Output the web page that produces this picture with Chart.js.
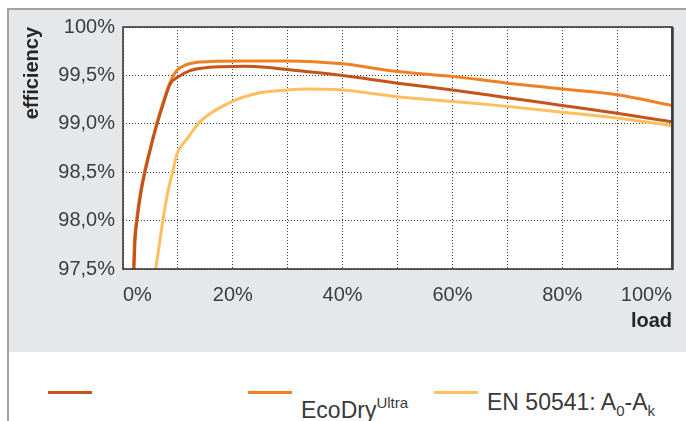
<html>
<head>
<script src="https://cdn.jsdelivr.net/npm/chart.js@4.4.0/dist/chart.umd.min.js"></script>
<style>
body { margin: 0; background: #fff; font-family: "Liberation Sans", Arial, sans-serif; }
#wrap { position: relative; width: 686px; height: 421px; overflow: hidden; }
#frame { position: absolute; left: 7px; top: 8px; right: 0; bottom: 0; border-top: 2px solid #a3a3a3; border-left: 2px solid #a3a3a3; }
#panel { position: absolute; left: 0; top: 0; right: 0; height: 342px; background: #e6e7e9; }
#chart { position: absolute; left: 0; top: 0; }
#legend { position: absolute; left: 0; top: 352px; width: 686px; height: 69px; }
.item { position: absolute; top: 0; }
.item .ln { position: absolute; top: 39px; left: 0; width: 44px; height: 3px; }
.item .tx { position: absolute; top: 39px; left: 53px; white-space: nowrap; font-size: 23px; line-height: 23px; color: #3a3a3a; }
.item sup { font-size: 15px; vertical-align: 10px; }
.item sub { font-size: 15px; vertical-align: -6px; }
</style>
</head>
<body>
<div id="wrap">
  <div id="frame"><div id="panel"></div></div>
  <canvas id="chart" width="686" height="352"></canvas>
  <div id="legend"></div>
</div>
<script>
// load in %, efficiency in %
var rustLoad = [2.0, 2.2, 2.55, 3.3, 4.0, 5.0, 6.0, 7.3, 8.6, 10.2, 12.0, 14.5, 18.0, 22.0, 26.0, 30.0, 40.0, 50.0, 60.0, 70.0, 80.0, 90.0, 100];
var rustEff  = [97.5, 97.8, 98.0, 98.3, 98.5, 98.74, 98.96, 99.2, 99.41, 99.49, 99.545, 99.575, 99.59, 99.595, 99.585, 99.56, 99.50, 99.42, 99.35, 99.27, 99.19, 99.11, 99.02];

var ecoLoad = [1.9, 2.1, 2.45, 3.2, 3.9, 4.9, 6.0, 7.3, 8.6, 9.8, 11.5, 13.5, 17.0, 22.0, 30.0, 40.0, 50.0, 60.0, 70.0, 80.0, 90.0, 100];
var ecoEff  = [97.5, 97.8, 98.0, 98.3, 98.5, 98.73, 98.97, 99.22, 99.43, 99.55, 99.61, 99.635, 99.645, 99.65, 99.65, 99.62, 99.54, 99.49, 99.42, 99.36, 99.30, 99.19];

var enLoad = [5.96, 6.74, 7.23, 8.25, 9.05, 9.78, 10.6, 11.6, 14.0, 19.5, 24.95, 30.0, 33.0, 40.0, 50.0, 60.0, 70.0, 80.0, 90.0, 100];
var enEff  = [97.5, 97.8, 97.99, 98.32, 98.5, 98.68, 98.77, 98.84, 99.02, 99.22, 99.32, 99.35, 99.36, 99.35, 99.28, 99.23, 99.18, 99.12, 99.06, 98.98];

var seriesNames = ['', 'EcoDry<sup>Ultra</sup>', 'EN 50541: A<sub>0</sub>-A<sub>k</sub>'];
var seriesColors = ['#c4541c', '#f18024', '#fdbf60'];

var yTickValues = [97.5, 98.0, 98.5, 99.0, 99.5, 100];
var yTickLabels = ['97,5%', '98,0%', '98,5%', '99,0%', '99,5%', '100%'];
var xTickValues = [0, 20, 40, 60, 80, 100];
var xTickLabels = ['0%', '20%', '40%', '60%', '80%', '100%'];

function toPoints(xs, ys) {
    var pts = [];
    for (var i = 0; i < xs.length; i++) {
        pts.push({x: xs[i], y: ys[i]});
    }
    return pts;
}

var legendX = [48, 248, 434];

var plotFrame = {
    id: 'plotFrame',
    beforeDraw: function(chart) {
        var a = chart.chartArea, c = chart.ctx;
        c.save();
        c.fillStyle = '#ffffff';
        c.fillRect(a.left, a.top, a.right - a.left, a.bottom - a.top);
        c.restore();
    },
    afterDatasetsDraw: function(chart) {
        var a = chart.chartArea, c = chart.ctx;
        c.save();
        c.strokeStyle = '#2e2e2e';
        c.lineWidth = 1.5;
        c.strokeRect(a.left, a.top, a.right - a.left, a.bottom - a.top);
        c.lineWidth = 2.5;
        c.strokeStyle = '#3a3a3a';
        c.beginPath();
        c.moveTo(a.right + 0.5, a.top);
        c.lineTo(a.right + 0.5, a.bottom + 1);
        c.stroke();
        c.restore();
    }
};

var htmlLegend = {
    id: 'htmlLegend',
    afterUpdate: function(chart) {
        var box = document.getElementById('legend');
        box.innerHTML = '';
        chart.data.datasets.forEach(function(ds, i) {
            var item = document.createElement('div');
            item.className = 'item';
            item.style.left = legendX[i] + 'px';
            var ln = document.createElement('div');
            ln.className = 'ln';
            ln.style.background = ds.borderColor;
            item.appendChild(ln);
            var tx = document.createElement('div');
            tx.className = 'tx';
            tx.innerHTML = seriesNames[i];
            item.appendChild(tx);
            box.appendChild(item);
        });
    }
};

var tickFont = {family: '"Liberation Sans", Arial, sans-serif', size: 20};
var titleFont = {family: '"Liberation Sans", Arial, sans-serif', size: 20, weight: 'bold'};

var lineChart = new Chart(document.getElementById('chart').getContext('2d'), {
    type: 'line',
    data: {
        datasets: [{
            label: 'series 1',
            data: toPoints(rustLoad, rustEff),
            borderColor: seriesColors[0],
            order: 0
        }, {
            label: 'EcoDry Ultra',
            data: toPoints(ecoLoad, ecoEff),
            borderColor: seriesColors[1],
            order: 1
        }, {
            label: 'EN 50541: A0-Ak',
            data: toPoints(enLoad, enEff),
            borderColor: seriesColors[2],
            order: 2
        }]
    },
    options: {
        responsive: false,
        animation: false,
        layout: {padding: {top: 27, right: 14, left: 0, bottom: 0}},
        elements: {
            line: {borderWidth: 3, cubicInterpolationMode: 'monotone', fill: false},
            point: {radius: 0}
        },
        plugins: {legend: {display: false}, tooltip: {enabled: false}},
        scales: {
            x: {
                type: 'linear',
                min: 0,
                max: 100,
                afterFit: function(s) { s.height = 83; },
                grid: {color: '#3a3a3a', lineWidth: 1, drawTicks: false},
                border: {display: false, dash: [1, 2]},
                ticks: {
                    stepSize: 10,
                    autoSkip: false,
                    maxRotation: 0,
                    align: 'inner',
                    padding: 14,
                    color: '#3c3c3c',
                    font: tickFont,
                    callback: function(v) {
                        var k = xTickValues.indexOf(v);
                        return k < 0 ? '' : xTickLabels[k];
                    }
                },
                title: {display: true, text: 'load', align: 'end', color: '#262626', font: titleFont, padding: {top: 0, bottom: 19}}
            },
            y: {
                min: 97.5,
                max: 100,
                afterFit: function(s) { s.width = 123; },
                grid: {color: '#3a3a3a', lineWidth: 1, drawTicks: false},
                border: {display: false, dash: [1, 2]},
                ticks: {
                    stepSize: 0.5,
                    padding: 8,
                    color: '#3c3c3c',
                    font: tickFont,
                    callback: function(v) {
                        var k = yTickValues.indexOf(Math.round(v * 10) / 10);
                        return k < 0 ? '' : yTickLabels[k];
                    }
                },
                title: {display: true, text: 'efficiency', align: 'end', color: '#262626', font: titleFont, padding: {top: 20, bottom: 0}}
            }
        }
    },
    plugins: [plotFrame, htmlLegend]
});
</script>
</body>
</html>
